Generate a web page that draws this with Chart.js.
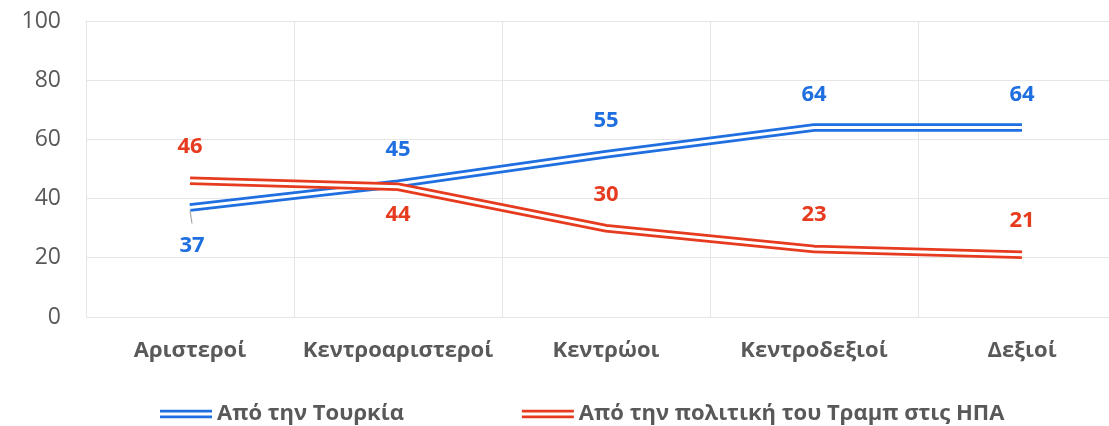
<!DOCTYPE html>
<html>
<head>
<meta charset="utf-8">
<script src="https://cdn.jsdelivr.net/npm/chart.js@4/dist/chart.umd.min.js"></script>
<style>
  html, body { margin: 0; padding: 0; background: #fff; overflow: hidden; }
  #wrap { width: 1140px; height: 426px; position: relative; }
</style>
</head>
<body>
<div id="wrap"><canvas id="chart"></canvas></div>
<script>
const categories = ['Αριστεροί', 'Κεντροαριστεροί', 'Κεντρώοι', 'Κεντροδεξιοί', 'Δεξιοί'];
const seriesNames = ['Από την Τουρκία', 'Από την πολιτική του Τραμπ στις ΗΠΑ'];
const turkeyValues = [37, 45, 55, 64, 64];
const trumpValues = [46, 44, 30, 23, 21];
const yTicks = [0, 20, 40, 60, 80, 100];

// label offsets in px (negative = above the point)
const turkeyLabelShift = [38, -34, -33, -33, -33];
const trumpLabelShift = [-34, 28, -33, -34, -34];

const BLUE = '#1F6FE0';
const RED = '#E63B1F';
const GREY = '#595959';
const GRID = '#E6E6E6';
const FONT = "'Open Sans', sans-serif";

// Excel-style double line: thick colour line + white core on top
function doubleLine(label, data, color, order, shift) {
  return [
    { label, data, borderColor: color, borderWidth: 8.5, pointRadius: 0, tension: 0,
      order: order + 1, labelShift: shift, mainColor: color },
    { label: '', data, borderColor: '#fff', borderWidth: 3, pointRadius: 0, tension: 0,
      order: order, inner: true },
  ];
}

const valueLabels = {
  id: 'valueLabels',
  afterDatasetsDraw(chart) {
    const ctx = chart.ctx;
    ctx.save();
    ctx.font = `bold 22px ${FONT}`;
    ctx.textAlign = 'center';
    ctx.textBaseline = 'middle';
    chart.data.datasets.forEach((ds, di) => {
      if (ds.inner) return;
      const meta = chart.getDatasetMeta(di);
      meta.data.forEach((pt, i) => {
        const shift = ds.labelShift[i];
        if (shift > 35) {
          // leader line for the moved label
          ctx.strokeStyle = '#A6A6A6';
          ctx.lineWidth = 1.2;
          ctx.beginPath();
          ctx.moveTo(pt.x, pt.y + 3);
          ctx.lineTo(pt.x + 2, pt.y + 16);
          ctx.stroke();
        }
        ctx.fillStyle = ds.mainColor;
        ctx.fillText(String(ds.data[i]), pt.x + (shift > 35 ? 2 : 0), pt.y + shift);
      });
    });
    ctx.restore();
  }
};

const doubleLegend = {
  id: 'doubleLegend',
  afterDraw(chart) {
    const ctx = chart.ctx;
    ctx.save();
    ctx.font = `bold 22px ${FONT}`;
    ctx.textBaseline = 'middle';
    const y = 414;
    let x = 160;
    chart.data.datasets.filter(d => !d.inner).forEach(ds => {
      ctx.strokeStyle = ds.mainColor;
      ctx.lineWidth = 8.5;
      ctx.beginPath(); ctx.moveTo(x, y); ctx.lineTo(x + 52, y); ctx.stroke();
      ctx.strokeStyle = '#fff';
      ctx.lineWidth = 3;
      ctx.beginPath(); ctx.moveTo(x - 1, y); ctx.lineTo(x + 53, y); ctx.stroke();
      ctx.fillStyle = GREY;
      ctx.fillText(ds.label, x + 57, y);
      x += 57 + ctx.measureText(ds.label).width + 118;
    });
    ctx.restore();
  }
};

new Chart(document.getElementById('chart'), {
  type: 'line',
  data: {
    labels: categories,
    datasets: [
      ...doubleLine(seriesNames[0], turkeyValues, BLUE, 3, turkeyLabelShift),
      ...doubleLine(seriesNames[1], trumpValues, RED, 1, trumpLabelShift),
    ],
  },
  options: {
    responsive: true,
    maintainAspectRatio: false,
    animation: false,
    layout: { padding: { top: 21, right: 14, left: 0, bottom: 0 } },
    scales: {
      x: {
        offset: true,
        grid: { offset: true, color: GRID, drawTicks: false },
        border: { color: GRID },
        ticks: { color: GREY, padding: 21, font: { family: FONT, size: 22, weight: 'bold' } },
        afterFit: s => { s.height = 109; s.paddingLeft = 0; s.paddingRight = 0; },
      },
      y: {
        min: 0,
        max: 100,
        afterBuildTicks: s => { s.ticks = yTicks.map(v => ({ value: v })); },
        grid: { color: GRID, drawTicks: false },
        border: { color: GRID },
        ticks: { color: GREY, padding: 25, font: { family: FONT, size: 23 } },
        afterFit: s => { s.width = 86; s.paddingTop = 0; s.paddingBottom = 0; },
      },
    },
    plugins: {
      legend: { display: false },
      tooltip: { enabled: false },
    },
  },
  plugins: [valueLabels, doubleLegend],
});
</script>
</body>
</html>
